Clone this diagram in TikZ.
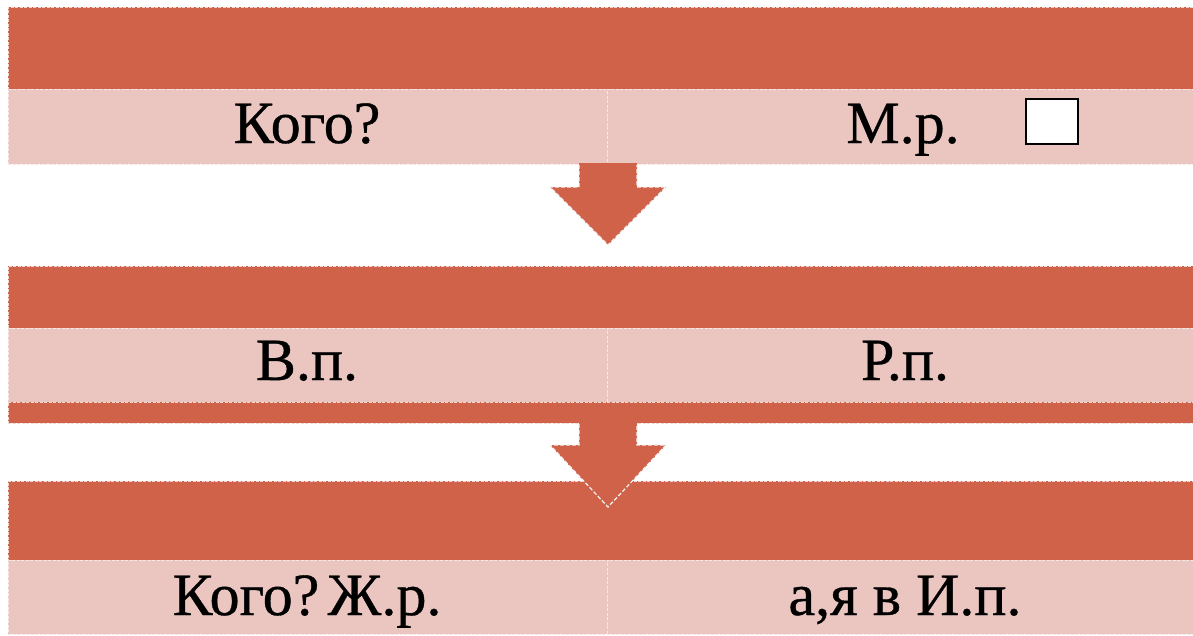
\documentclass[tikz,border=0pt]{standalone}
\usepackage{fontspec}
\setmainfont{Liberation Serif}[FakeBold=0.6]
\definecolor{darkband}{RGB}{208,98,74}
\definecolor{lightband}{RGB}{235,198,193}
\begin{document}
\begin{tikzpicture}[x=1pt,y=-1pt,
  band/.style={fill=darkband, draw=white!75!darkband, dash pattern=on 3pt off 1.5pt, line width=0.6pt, inner sep=0, outer sep=0, anchor=north west},
  cell/.style={fill=lightband, draw=white!60!lightband, dash pattern=on 3pt off 1.5pt, line width=0.6pt, inner sep=0, outer sep=0, anchor=north west},
  txt/.style={font=\fontsize{60}{64}\selectfont, anchor=base, inner sep=0},
  arrowfill/.style={fill=darkband},
  arrowline/.style={draw=white!92!gray, dash pattern=on 4pt off 2pt, line width=1.2pt},
  checkbox/.style={draw=black, fill=white, line width=1.8pt, minimum width=52pt, minimum height=45pt, inner sep=0, anchor=north west}
]
\useasboundingbox (0,0) rectangle (1193,635);
% block 1
\node[band, minimum width=1195pt, minimum height=82pt] (b1) at (8,7) {};
\node[cell, minimum width=599pt, minimum height=75pt] (c1l) at (8,89) {};
\node[cell, minimum width=596pt, minimum height=75pt] (c1r) at (607,89) {};
\node[txt] (t1l) at (307,143) {Кого?};
\node[txt] (t1r) at (903,143) {М.р.};
\node[checkbox] (box) at (1025,98) {};
% arrow 1
\path[arrowfill] (579,163) -- (579,187) -- (550,187) -- (608,245) -- (666,187) -- (637,187) -- (637,163) -- cycle;
\draw[arrowline] (579,165) -- (579,187) -- (550,187) -- (608,245) -- (666,187) -- (637,187) -- (637,165);
% block 2
\node[band, minimum width=1195pt, minimum height=62pt] (b2) at (8,266) {};
\node[cell, minimum width=599pt, minimum height=74pt] (c2l) at (8,328) {};
\node[cell, minimum width=596pt, minimum height=74pt] (c2r) at (607,328) {};
\node[band, minimum width=1195pt, minimum height=21pt] (b2s) at (8,402) {};
\node[txt] (t2l) at (307,380) {В.п.};
\node[txt] (t2r) at (905,380) {Р.п.};
% block 3
\node[band, minimum width=1195pt, minimum height=79pt] (b3) at (8,481) {};
\node[cell, minimum width=599pt, minimum height=74pt] (c3l) at (8,560) {};
\node[cell, minimum width=596pt, minimum height=74pt] (c3r) at (607,560) {};
\node[txt] (t3l) at (307,615) {Кого?\hspace{0.14em}Ж.р.};
\node[txt] (t3r) at (905,615) {а,я в И.п.};
% arrow 2
\path[arrowfill] (579,422) -- (579,445) -- (550,445) -- (608,507) -- (666,445) -- (637,445) -- (637,422) -- cycle;
\draw[arrowline] (579,424) -- (579,445) -- (550,445) -- (608,507) -- (666,445) -- (637,445) -- (637,424);
\end{tikzpicture}
\end{document}
